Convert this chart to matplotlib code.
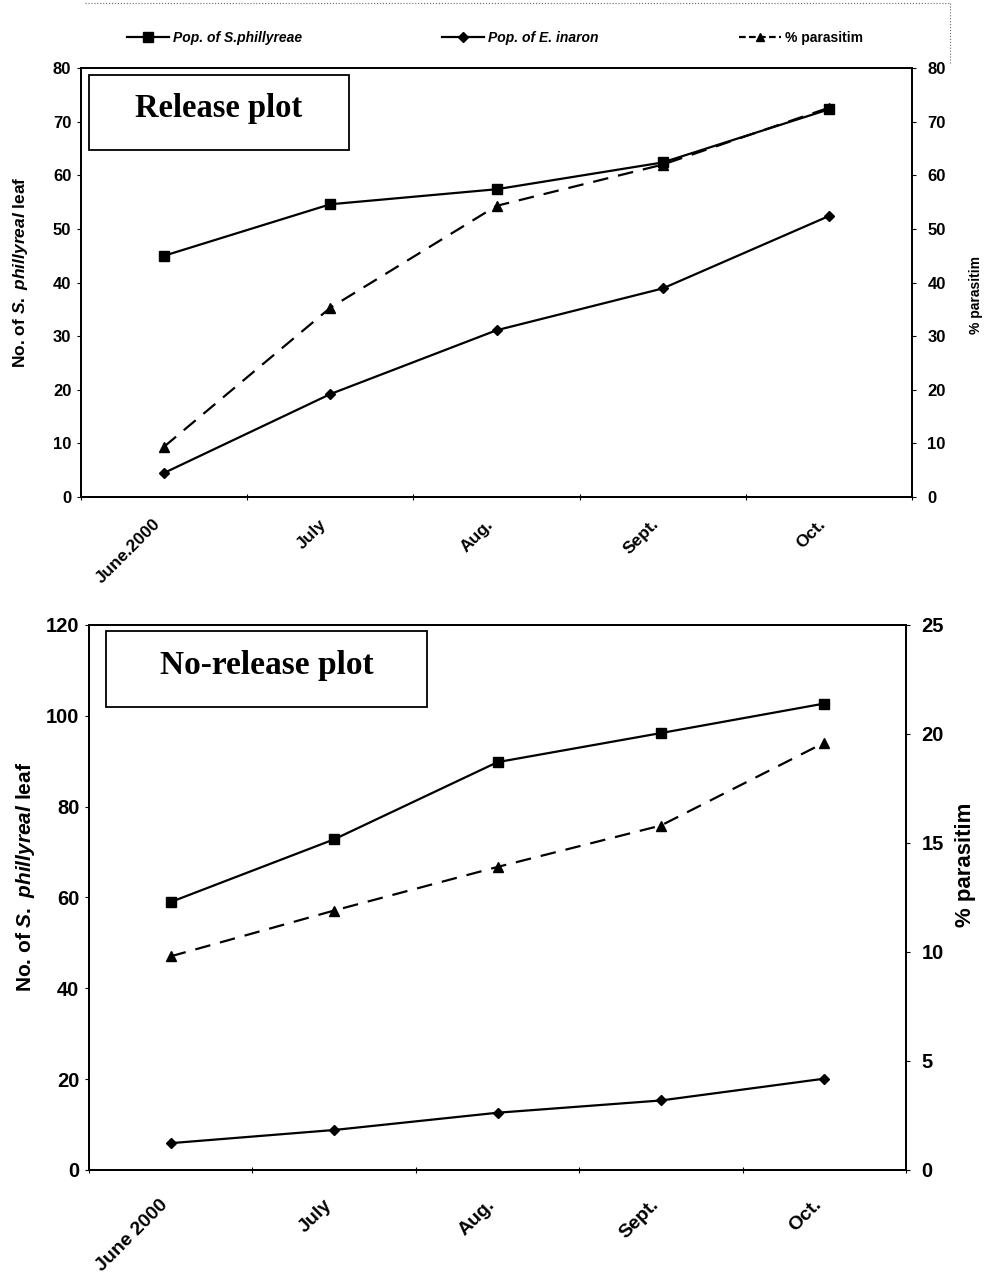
import matplotlib.pyplot as plt
from matplotlib.patches import Rectangle
from matplotlib.lines import Line2D
from matplotlib.transforms import ScaledTranslation

plt.rcParams['font.family'] = ['Liberation Sans', 'DejaVu Sans']
plt.rcParams['mathtext.fontset'] = 'custom'
plt.rcParams['mathtext.it'] = 'Liberation Sans:italic:bold'
plt.rcParams['mathtext.rm'] = 'Liberation Sans:bold'

# data
months_release = ['June.2000', 'July', 'Aug.', 'Sept.', 'Oct.']
months_norelease = ['June 2000', 'July', 'Aug.', 'Sept.', 'Oct.']

release_sphil = [45, 54.6, 57.4, 62.4, 72.3]
release_einaron = [4.5, 19.2, 31.1, 38.9, 52.4]
release_parasit = [9.4, 35.3, 54.3, 62.0, 72.6]

norelease_sphil = [59, 72.8, 89.8, 96.2, 102.7]
norelease_einaron = [5.9, 8.8, 12.6, 15.3, 20.1]
norelease_parasit = [9.8, 11.9, 13.9, 15.8, 19.6]

legend_labels = ['Pop. of S.phillyreae', 'Pop. of E. inaron', '% parasitim']
ylabel_left = r'No. of $S.\ phillyreal$ leaf'
ylabel_right = '% parasitim'


def draw_panel(fig, ax, labels, sphil, einaron, parasit, ymax, ystep, pmax, pstep,
               tick_fs, xtick_fs, lab_fs, rlab_fs, lpos, rpos, xpad):
    x = list(range(len(labels)))
    ax.plot(x, sphil, color='black', lw=1.6, marker='s', ms=7.5, zorder=3)
    ax.plot(x, einaron, color='black', lw=1.6, marker='D', ms=5.5, zorder=3)
    ax.set_xlim(-0.5, len(labels) - 0.5)
    ax.set_ylim(0, ymax)
    ax.set_yticks(range(0, ymax + 1, ystep))
    ax.set_xticks(x)
    ax.set_xticklabels(labels, rotation=45, ha='right', va='top',
                       rotation_mode='anchor', fontsize=xtick_fs, fontweight='bold')
    ax.set_xticks([i - 0.5 for i in range(len(labels) + 1)], minor=True)
    ax.tick_params(axis='x', which='major', length=0, pad=xpad)
    ax.tick_params(axis='x', which='minor', length=5, direction='inout', width=0.8)
    ax.tick_params(axis='y', length=3, width=0.8, labelsize=tick_fs, pad=4)
    shift = ScaledTranslation(-8 / 72, 0, fig.dpi_scale_trans)
    for t in ax.get_xticklabels():
        t.set_transform(t.get_transform() + shift)
    for t in ax.get_yticklabels():
        t.set_fontweight('bold')
    ax.set_ylabel(ylabel_left, fontsize=lab_fs, fontweight='bold')
    ax.yaxis.set_label_coords(*lpos)
    for sp in ax.spines.values():
        sp.set_linewidth(1.3)

    ax2 = ax.twinx()
    ax2.plot(x, parasit, color='black', lw=1.6, ls=(0, (7, 4.5)), marker='^', ms=6.5, zorder=3)
    ax2.set_ylim(0, pmax)
    ax2.set_yticks(range(0, pmax + 1, pstep))
    ax2.tick_params(axis='y', length=3, width=0.8, labelsize=tick_fs, pad=8)
    for t in ax2.get_yticklabels():
        t.set_fontweight('bold')
    ax2.set_ylabel(ylabel_right, fontsize=rlab_fs, fontweight='bold')
    ax2.yaxis.set_label_coords(*rpos)
    for sp in ax2.spines.values():
        sp.set_linewidth(1.3)
    return ax2


fig = plt.figure(figsize=(9.98, 12.82), dpi=100)

ax_top = fig.add_axes([0.0812, 0.6123, 0.8326, 0.3346])
draw_panel(fig, ax_top, months_release, release_sphil, release_einaron, release_parasit,
           80, 10, 80, 10, 12, 12.5, 12.5, 10, (-0.061, 0.524), (1.069, 0.471), 14)

ax_bot = fig.add_axes([0.0892, 0.0874, 0.8186, 0.4251])
draw_panel(fig, ax_bot, months_norelease, norelease_sphil, norelease_einaron, norelease_parasit,
           120, 20, 25, 5, 14.5, 14, 15, 16, (-0.064, 0.538), (1.06, 0.56), 19)

# panel title boxes
fig.patches.append(Rectangle((0.0892, 0.883), 0.2605, 0.0585, transform=fig.transFigure,
                             fill=False, lw=1.3, ec='black'))
fig.text(0.0892 + 0.2605 / 2, 0.883 + 0.0585 / 2 + 0.003, 'Release plot',
         ha='center', va='center', family='Liberation Serif', fontweight='bold', fontsize=23.5)
fig.patches.append(Rectangle((0.1062, 0.4485), 0.3216, 0.0593, transform=fig.transFigure,
                             fill=False, lw=1.3, ec='black'))
fig.text(0.1062 + 0.3216 / 2, 0.4485 + 0.0593 / 2 + 0.003, 'No-release plot',
         ha='center', va='center', family='Liberation Serif', fontweight='bold', fontsize=24)

# legend strip at the top
handles = [
    Line2D([], [], color='black', lw=1.6, marker='s', ms=7),
    Line2D([], [], color='black', lw=1.6, marker='D', ms=5),
    Line2D([], [], color='black', lw=1.6, ls=(0, (3, 1.5)), marker='^', ms=6),
]
leg = fig.legend(handles, legend_labels, loc='center', bbox_to_anchor=(0.496, 0.9704),
                 ncol=3, frameon=False, fontsize=10, handlelength=3, handletextpad=0.3,
                 columnspacing=10.1)
for i, t in enumerate(leg.get_texts()):
    t.set_fontweight('bold')
    if i < 2:
        t.set_fontstyle('italic')

# faint dotted border of the legend area
fig.add_artist(Line2D([0.085, 0.952], [0.998, 0.998], transform=fig.transFigure,
                      color='0.4', lw=0.8, ls=':'))
fig.add_artist(Line2D([0.952, 0.952], [0.998, 0.95], transform=fig.transFigure,
                      color='0.4', lw=0.8, ls=':'))

fig.savefig('out.png', dpi=100)
